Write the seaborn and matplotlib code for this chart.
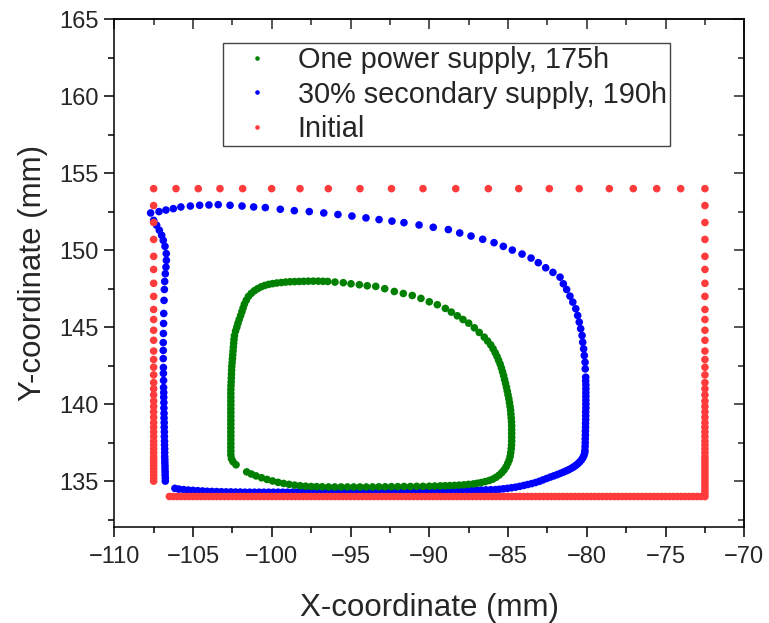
import numpy as np
import pandas as pd
import matplotlib
matplotlib.use("Agg")
import matplotlib.pyplot as plt
from matplotlib.ticker import MultipleLocator
import seaborn as sns

# values, all in mm
LABELS = ["One power supply, 175h", "30% secondary supply, 190h", "Initial"]
COLORS = ["#008000", "#0000FF", "#FF3B3B"]

# --- initial outline (red) ---
init_left_x = -107.5
init_left_y = [152.9, 151.8, 150.7, 149.6, 148.75, 147.85, 147.0, 146.15, 145.5, 144.8,
               144.15, 143.45, 142.9, 142.4, 141.9, 141.4, 141.0, 140.6, 140.2, 139.85,
               139.5, 139.15, 138.8, 138.5, 138.2, 137.9, 137.6, 137.35, 137.1, 136.85,
               136.6, 136.4, 136.2, 136.0, 135.8, 135.6, 135.4, 135.2, 135.0]
init_top_y = 154.0
init_top_x = [-107.5, -106.08, -104.67, -103.29, -101.85, -100.01, -98.21, -96.41, -94.4,
              -92.4, -90.4, -88.32, -86.25, -84.32, -82.38, -80.48, -78.57, -77.05,
              -75.56, -74.04, -72.5]
init_right_x = -72.5
init_right_y = init_left_y + [134.8, 134.6, 134.4, 134.2]
init_bottom_y = 134.0
init_bottom_x = [
    -106.5, -106.25, -106.0, -105.75, -105.5, -105.25, -105.0, -104.75,
    -104.5, -104.25, -104.0, -103.75, -103.5, -103.25, -103.0, -102.75,
    -102.5, -102.25, -102.0, -101.75, -101.5, -101.25, -101.0, -100.75,
    -100.5, -100.25, -100.0, -99.75, -99.5, -99.25, -99.0, -98.75,
    -98.5, -98.25, -98.0, -97.75, -97.5, -97.25, -97.0, -96.75,
    -96.5, -96.25, -96.0, -95.75, -95.5, -95.25, -95.0, -94.75,
    -94.5, -94.25, -94.0, -93.75, -93.5, -93.25, -93.0, -92.75,
    -92.5, -92.25, -92.0, -91.75, -91.5, -91.25, -91.0, -90.75,
    -90.5, -90.25, -90.0, -89.75, -89.5, -89.25, -89.0, -88.75,
    -88.5, -88.25, -88.0, -87.75, -87.5, -87.25, -87.0, -86.75,
    -86.5, -86.25, -86.0, -85.75, -85.5, -85.25, -85.0, -84.75,
    -84.5, -84.25, -84.0, -83.75, -83.5, -83.25, -83.0, -82.75,
    -82.5, -82.25, -82.0, -81.75, -81.5, -81.25, -81.0, -80.75,
    -80.5, -80.25, -80.0, -79.75, -79.5, -79.25, -79.0, -78.75,
    -78.5, -78.25, -78.0, -77.75, -77.5, -77.25, -77.0, -76.75,
    -76.5, -76.25, -76.0, -75.75, -75.5, -75.25, -75.0, -74.75,
    -74.5, -74.25, -74.0, -73.75, -73.5, -73.25, -73.0, -72.75, -72.5]

# --- 30% secondary supply, 190h (blue) ---
blue_left_x = [-106.76, -106.76, -106.77, -106.77, -106.78, -106.78, -106.79, -106.79,
               -106.8, -106.8, -106.8, -106.81, -106.81, -106.82, -106.82, -106.83,
               -106.83, -106.84, -106.84, -106.85, -106.85, -106.86, -106.86, -106.87,
               -106.87, -106.88, -106.88, -106.89, -106.89, -106.89, -106.88, -106.87,
               -106.86, -106.84, -106.82, -106.8, -106.76, -106.72, -106.69, -106.7,
               -106.78, -106.89, -106.99, -107.14, -107.31, -107.5, -107.69]
blue_left_y = [135.0, 135.2, 135.4, 135.6, 135.8, 136.0, 136.2, 136.4,
               136.6, 136.85, 137.1, 137.35, 137.6, 137.9, 138.2, 138.5,
               138.8, 139.1, 139.4, 139.75, 140.1, 140.45, 140.75, 141.08,
               141.54, 142.0, 142.38, 142.96, 143.49, 144.0, 144.59, 145.24,
               145.89, 146.74, 147.45, 147.97, 148.47, 148.9, 149.34, 149.78,
               150.25, 150.64, 150.97, 151.3, 151.62, 151.94, 152.42]
blue_top_x = [-107.16, -106.72, -106.25, -105.77, -105.17, -104.58, -103.99, -103.4,
              -102.65, -101.89, -101.15, -100.41, -99.46, -98.57, -97.62, -96.7,
              -95.8, -94.91, -94.02, -93.19, -92.37, -91.61, -90.65, -89.75,
              -88.79, -88.07, -87.35, -86.61, -85.89, -85.3, -84.73, -84.11,
              -83.54, -83.08, -82.61, -82.15, -81.7]
blue_top_y = [152.51, 152.61, 152.7, 152.81, 152.87, 152.92, 152.94, 152.96,
              152.92, 152.87, 152.81, 152.77, 152.66, 152.57, 152.51, 152.42,
              152.32, 152.22, 152.1, 151.99, 151.89, 151.79, 151.64, 151.49,
              151.34, 151.12, 150.92, 150.71, 150.49, 150.25, 150.01, 149.75,
              149.49, 149.19, 148.86, 148.56, 148.25]
blue_right_x = [-81.49, -81.28, -81.07, -80.89, -80.7, -80.58, -80.48, -80.39,
                -80.3, -80.26, -80.2, -80.16, -80.11, -80.1, -80.07,
                -80.07, -80.06, -80.06, -80.06, -80.06, -80.06, -80.06, -80.06,
                -80.07, -80.07, -80.07, -80.08, -80.08, -80.09, -80.09, -80.1,
                -80.1, -80.11, -80.12]
blue_right_y = [147.82, 147.45, 147.02, 146.63, 146.2, 145.76, 145.33, 144.9,
                144.46, 144.02, 143.59, 143.16, 142.72, 142.29, 141.75,
                141.5, 141.25, 141.0, 140.75, 140.5, 140.25, 140.0, 139.75,
                139.5, 139.25, 139.0, 138.75, 138.5, 138.25, 138.0, 137.75,
                137.5, 137.25, 137.0]
blue_corner_x = [-80.13, -80.18, -80.25, -80.34, -80.45, -80.57, -80.7, -80.84,
                 -80.99, -81.15, -81.32, -81.5, -81.69, -81.89, -82.1, -82.32,
                 -82.55, -82.78, -83.01, -83.25, -83.5, -83.75, -84.0, -84.26,
                 -84.52, -84.78, -85.04, -85.3, -85.55]
blue_corner_y = [136.85, 136.68, 136.52, 136.38, 136.25, 136.13, 136.02, 135.92,
                 135.83, 135.74, 135.66, 135.58, 135.5, 135.42, 135.34, 135.26,
                 135.17, 135.08, 134.99, 134.91, 134.84, 134.78, 134.72, 134.66,
                 134.61, 134.57, 134.53, 134.5, 134.47]
blue_bottom_x = [-85.8, -86.1, -86.4, -86.7, -87.0, -87.3, -87.6, -87.9,
                 -88.2, -88.5, -88.8, -89.1, -89.4, -89.7, -90.0, -90.3,
                 -90.6, -90.9, -91.2, -91.5, -91.8, -92.1, -92.4, -92.7,
                 -93.0, -93.3, -93.6, -93.9, -94.2, -94.5, -94.8, -95.1,
                 -95.4, -95.7, -96.0, -96.3, -96.6, -96.9, -97.2, -97.5,
                 -97.8, -98.1, -98.4, -98.7, -99.0, -99.3, -99.6, -99.9,
                 -100.2, -100.5, -100.8, -101.1, -101.4, -101.7, -102.0, -102.3,
                 -102.6, -102.9, -103.2, -103.5, -103.8, -104.1, -104.4, -104.7,
                 -105.0, -105.3, -105.6, -105.9, -106.15]
blue_bottom_y = [134.45, 134.44, 134.43, 134.42, 134.41, 134.4, 134.39, 134.38,
                 134.38, 134.37, 134.37, 134.36, 134.36, 134.35, 134.35, 134.34,
                 134.34, 134.33, 134.33, 134.32, 134.32, 134.32, 134.31, 134.31,
                 134.31, 134.3, 134.3, 134.3, 134.3, 134.29, 134.29, 134.29,
                 134.29, 134.28, 134.28, 134.28, 134.28, 134.28, 134.28, 134.28,
                 134.28, 134.28, 134.28, 134.28, 134.28, 134.28, 134.28, 134.28,
                 134.28, 134.28, 134.28, 134.28, 134.28, 134.28, 134.29, 134.29,
                 134.3, 134.3, 134.31, 134.32, 134.33, 134.34, 134.36, 134.38,
                 134.4, 134.42, 134.45, 134.48, 134.53]

# --- one power supply, 175h (green) ---
green_left_x = [-102.27, -102.46, -102.56] + [-102.6] * 18 + [
    -102.59, -102.58, -102.57, -102.56, -102.55, -102.54, -102.52,
    -102.5, -102.48, -102.46, -102.44, -102.42, -102.4, -102.37]
green_left_y = [136.06, 136.26, 136.46, 136.7, 136.95, 137.2, 137.45, 137.7, 137.95,
                138.2, 138.45, 138.7, 138.95, 139.2, 139.45, 139.7, 139.95, 140.2,
                140.45, 140.7, 140.95, 141.2, 141.45, 141.7, 141.95, 142.2, 142.45,
                142.7, 142.95, 143.2, 143.45, 143.7, 143.95, 144.2, 144.45]
green_top_x = [-102.3, -102.22, -102.15, -102.07, -101.98, -101.9, -101.82, -101.74,
               -101.62, -101.48, -101.3, -101.1, -100.9, -100.68, -100.45, -100.2,
               -99.95, -99.68, -99.4, -99.12, -98.84, -98.55, -98.26, -97.97,
               -97.68, -97.37, -97.05, -96.75, -96.45, -95.99, -95.46, -94.97,
               -94.44, -93.94, -93.4, -92.83, -92.22, -91.65, -91.08, -90.53,
               -90.0, -89.49, -88.98, -88.6, -88.22, -87.86, -87.5, -87.14, -86.83]
green_top_y = [144.75, 145.0, 145.25, 145.5, 145.75, 146.0, 146.25, 146.5,
               146.75, 147.0, 147.2, 147.37, 147.5, 147.62, 147.71, 147.78,
               147.83, 147.87, 147.9, 147.93, 147.95, 147.96, 147.97, 147.98,
               147.99, 147.99, 147.99, 147.98, 147.97, 147.93, 147.89, 147.82,
               147.76, 147.69, 147.65, 147.5, 147.32, 147.19, 147.06, 146.87,
               146.65, 146.46, 146.22, 145.98, 145.74, 145.5, 145.26, 144.96, 144.66]
green_right_x = [-86.51, -86.3, -86.1, -85.95, -85.82, -85.7, -85.6, -85.5,
                 -85.42, -85.35, -85.28, -85.22, -85.16, -85.1, -85.05, -85.0,
                 -84.95, -84.91, -84.87, -84.84, -84.82, -84.8, -84.78, -84.77,
                 -84.77, -84.77, -84.77, -84.77, -84.78, -84.8, -84.83, -84.87,
                 -84.93, -85.02, -85.12, -85.25, -85.4, -85.57, -85.76, -85.97,
                 -86.2, -86.45, -86.7, -86.95, -87.2, -87.5, -87.8, -88.1,
                 -88.4, -88.7, -89.0, -89.3, -89.65, -90.0]
green_right_y = [144.35, 144.1, 143.85, 143.6, 143.35, 143.1, 142.85, 142.6,
                 142.35, 142.1, 141.85, 141.6, 141.35, 141.1, 140.85, 140.6,
                 140.35, 140.1, 139.85, 139.6, 139.35, 139.1, 138.85, 138.6,
                 138.35, 138.1, 137.85, 137.6, 137.35, 137.1, 136.85, 136.6,
                 136.37, 136.15, 135.93, 135.73, 135.55, 135.39, 135.25, 135.13,
                 135.04, 134.97, 134.91, 134.86, 134.82, 134.79, 134.76, 134.74,
                 134.72, 134.71, 134.7, 134.69, 134.68, 134.67]
green_bottom_x = [-90.4, -90.8, -91.2, -91.6, -92.0, -92.4, -92.8, -93.2,
                  -93.6, -94.0, -94.4, -94.8, -95.2, -95.6, -96.0, -96.4,
                  -96.8, -97.15, -97.5, -97.85, -98.2, -98.55, -98.9, -99.25,
                  -99.6, -99.95, -100.3, -100.65, -101.0, -101.3, -101.59]
green_bottom_y = [134.66, 134.66, 134.65, 134.65, 134.64, 134.64, 134.63, 134.63,
                  134.62, 134.62, 134.62, 134.62, 134.62, 134.62, 134.62, 134.62,
                  134.63, 134.64, 134.65, 134.67, 134.7, 134.74, 134.79, 134.85,
                  134.92, 135.01, 135.11, 135.22, 135.34, 135.46, 135.6]


def frame(xs, ys, label):
    return pd.DataFrame({"x": xs, "y": ys, "series": label})


green = pd.concat([
    frame(green_left_x, green_left_y, LABELS[0]),
    frame(green_top_x, green_top_y, LABELS[0]),
    frame(green_right_x, green_right_y, LABELS[0]),
    frame(green_bottom_x, green_bottom_y, LABELS[0]),
])
blue = pd.concat([
    frame(blue_left_x, blue_left_y, LABELS[1]),
    frame(blue_top_x, blue_top_y, LABELS[1]),
    frame(blue_right_x, blue_right_y, LABELS[1]),
    frame(blue_corner_x, blue_corner_y, LABELS[1]),
    frame(blue_bottom_x, blue_bottom_y, LABELS[1]),
])
red = pd.concat([
    frame([init_left_x] * len(init_left_y), init_left_y, LABELS[2]),
    frame(init_top_x, [init_top_y] * len(init_top_x), LABELS[2]),
    frame([init_right_x] * len(init_right_y), init_right_y, LABELS[2]),
    frame(init_bottom_x, [init_bottom_y] * len(init_bottom_x), LABELS[2]),
])
# draw order: blue, green, then red on top
df = pd.concat([blue, green, red], ignore_index=True)

sns.set_style("ticks")
plt.rcParams["font.family"] = ["Liberation Sans", "DejaVu Sans"]

fig = plt.figure(figsize=(7.69, 6.23), dpi=100)
ax = fig.add_axes([0.1486, 0.1536, 0.8193, 0.8154])

sns.scatterplot(data=df, x="x", y="y", hue="series", hue_order=LABELS,
                palette=COLORS, s=30, linewidth=0, ax=ax)

ax.set_xlim(-110, -70)
ax.set_ylim(132, 165)
ax.xaxis.set_major_locator(MultipleLocator(5))
ax.xaxis.set_minor_locator(MultipleLocator(2.5))
ax.yaxis.set_major_locator(MultipleLocator(5))
ax.yaxis.set_minor_locator(MultipleLocator(2.5))
ax.tick_params(which="major", direction="out", length=7.5, width=1.1,
               labelsize=17, color="black", pad=4)
ax.tick_params(axis="x", which="major", pad=6)
ax.tick_params(which="minor", direction="out", length=4, width=1.1, color="black")
for sp in ax.spines.values():
    sp.set_linewidth(1.1)
    sp.set_color("black")

# mirrored ticks pointing inward on top and right
top = ax.secondary_xaxis("top")
right = ax.secondary_yaxis("right")
for sec, axis in ((top, top.xaxis), (right, right.yaxis)):
    axis.set_major_locator(MultipleLocator(5))
    axis.set_minor_locator(MultipleLocator(2.5))
    sec.tick_params(which="major", direction="in", length=7.5, width=1.1)
    sec.tick_params(which="minor", direction="in", length=4, width=1.1)
    sec.tick_params(labeltop=False, labelright=False)
    for sp in sec.spines.values():
        sp.set_linewidth(1.1)

ax.set_xlabel("X-coordinate (mm)", fontsize=22.5, labelpad=18)
ax.set_ylabel("Y-coordinate (mm)", fontsize=22.5, labelpad=8)

sns.move_legend(ax, loc="upper left", bbox_to_anchor=(0.173, 0.954), title=None,
                frameon=True, fancybox=False, framealpha=1, edgecolor="#444444",
                fontsize=20.8, markerscale=0.6, borderaxespad=0, borderpad=0.12,
                handlelength=2.1, handletextpad=0.35, labelspacing=0.22)
ax.get_legend().get_frame().set_linewidth(1.0)

fig.savefig("out.png", dpi=100)
